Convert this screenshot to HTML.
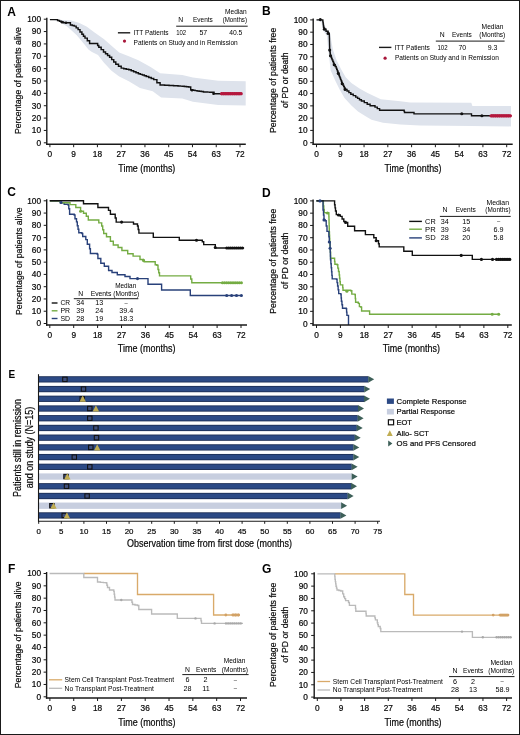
<!DOCTYPE html>
<html><head><meta charset="utf-8"><style>
html,body{margin:0;padding:0;background:#fff;}
body{width:520px;height:735px;overflow:hidden;position:relative;font-family:"Liberation Sans", sans-serif;}
svg{display:block;position:absolute;left:0;top:0;will-change:transform;}
.frame{position:absolute;left:0;top:0;width:518px;height:733px;border:1px solid #1a1a1a;pointer-events:none;}
</style></head><body>
<svg width="520" height="735" viewBox="0 0 520 735" font-family='"Liberation Sans", sans-serif'>
<style>text.s{stroke:#1a1a1a;stroke-width:0.22px;}</style>
<rect x="0" y="0" width="520" height="735" fill="#fff"/>
<text x="7.20" y="15.60" font-size="12" font-weight="bold">A</text>
<path d="M50.00 19.30 L71.10 20.40 L78.80 22.70 L86.50 26.50 L94.20 32.30 L103.80 39.00 L111.50 45.80 L119.20 52.50 L128.80 56.30 L138.40 60.20 L150.60 66.90 L160.10 73.30 L182.30 74.90 L192.90 77.50 L218.20 80.70 L245.70 81.30 L245.70 105.40 L218.20 105.00 L192.90 101.80 L182.30 98.60 L161.10 97.60 L152.70 91.20 L140.00 88.10 L128.80 81.30 L119.20 76.50 L111.50 70.80 L103.80 62.50 L98.00 55.00 L92.00 52.00 L88.40 49.50 L84.50 44.50 L76.80 35.20 L67.20 26.50 L58.00 21.00 L50.00 19.30Z" fill="#dee3ec"/>
<path d="M49.90 19.60H55.70H57.60V20.40H59.50V21.20H61.50V21.95H63.50V22.70H68.80H70.40V25.00H72.30V25.55H74.20V26.10H76.15V27.85H78.10V29.60H80.00V31.90H81.90V34.20H83.45V36.15H85.00V38.10H87.30V40.80H89.60V43.50H96.50H97.65V45.40H98.80V47.30H101.15V49.60H103.50V51.90H105.53V53.70H107.57V55.50H109.60V57.30H111.67V59.60H113.73V61.90H115.80V64.20H118.50V66.15H121.20V68.10H123.73V68.67H126.27V69.23H128.80V69.80H131.20V70.78H133.60V71.75H136.00V72.72H138.40V73.70H140.38V74.38H142.35V75.05H144.33V75.73H146.30V76.40H148.77V77.47H151.23V78.53H153.70V79.60H156.90V82.80H160.10V84.90H162.34V85.03H164.57V85.15H166.81V85.28H169.05V85.40H171.29V85.53H173.53V85.65H175.76V85.78H178.00V85.90H180.12V86.12H182.24V86.34H184.36V86.56H186.48V86.78H188.60V87.00H190.70V89.70H192.85V90.15H195.00V90.60H197.10V90.92H199.20V91.25H201.30V91.58H203.40V91.90H205.53V92.00H207.65V92.10H209.78V92.20H211.90V92.30H214.00V93.70H241.00" stroke="#111" stroke-width="1.45" fill="none"/>
<circle cx="213.50" cy="93.70" r="1.3" fill="#111"/>
<circle cx="192.00" cy="90.20" r="1.3" fill="#111"/>
<circle cx="62.00" cy="22.20" r="1.3" fill="#111"/>
<circle cx="66.00" cy="22.80" r="1.3" fill="#111"/>
<line x1="221.00" y1="93.70" x2="241.30" y2="93.70" stroke="#ad163c" stroke-width="3.0"/>
<circle cx="221.50" cy="93.70" r="1.6" fill="#b5173d"/>
<circle cx="223.69" cy="93.70" r="1.6" fill="#b5173d"/>
<circle cx="225.88" cy="93.70" r="1.6" fill="#b5173d"/>
<circle cx="228.07" cy="93.70" r="1.6" fill="#b5173d"/>
<circle cx="230.26" cy="93.70" r="1.6" fill="#b5173d"/>
<circle cx="232.45" cy="93.70" r="1.6" fill="#b5173d"/>
<circle cx="234.64" cy="93.70" r="1.6" fill="#b5173d"/>
<circle cx="236.83" cy="93.70" r="1.6" fill="#b5173d"/>
<circle cx="239.02" cy="93.70" r="1.6" fill="#b5173d"/>
<circle cx="241.21" cy="93.70" r="1.6" fill="#b5173d"/>
<line x1="46.80" y1="17.70" x2="46.80" y2="144.90" stroke="#1a1a1a" stroke-width="1.4"/>
<line x1="46.10" y1="144.20" x2="245.80" y2="144.20" stroke="#1a1a1a" stroke-width="1.4"/>
<line x1="43.80" y1="142.80" x2="46.80" y2="142.80" stroke="#1a1a1a" stroke-width="1"/>
<text x="41.00" y="145.70" font-size="8.3" text-anchor="end" class="s">0</text>
<line x1="43.80" y1="130.44" x2="46.80" y2="130.44" stroke="#1a1a1a" stroke-width="1"/>
<text x="41.00" y="133.34" font-size="8.3" text-anchor="end" class="s">10</text>
<line x1="43.80" y1="118.08" x2="46.80" y2="118.08" stroke="#1a1a1a" stroke-width="1"/>
<text x="41.00" y="120.98" font-size="8.3" text-anchor="end" class="s">20</text>
<line x1="43.80" y1="105.72" x2="46.80" y2="105.72" stroke="#1a1a1a" stroke-width="1"/>
<text x="41.00" y="108.62" font-size="8.3" text-anchor="end" class="s">30</text>
<line x1="43.80" y1="93.36" x2="46.80" y2="93.36" stroke="#1a1a1a" stroke-width="1"/>
<text x="41.00" y="96.26" font-size="8.3" text-anchor="end" class="s">40</text>
<line x1="43.80" y1="81.00" x2="46.80" y2="81.00" stroke="#1a1a1a" stroke-width="1"/>
<text x="41.00" y="83.90" font-size="8.3" text-anchor="end" class="s">50</text>
<line x1="43.80" y1="68.64" x2="46.80" y2="68.64" stroke="#1a1a1a" stroke-width="1"/>
<text x="41.00" y="71.54" font-size="8.3" text-anchor="end" class="s">60</text>
<line x1="43.80" y1="56.28" x2="46.80" y2="56.28" stroke="#1a1a1a" stroke-width="1"/>
<text x="41.00" y="59.18" font-size="8.3" text-anchor="end" class="s">70</text>
<line x1="43.80" y1="43.92" x2="46.80" y2="43.92" stroke="#1a1a1a" stroke-width="1"/>
<text x="41.00" y="46.82" font-size="8.3" text-anchor="end" class="s">80</text>
<line x1="43.80" y1="31.56" x2="46.80" y2="31.56" stroke="#1a1a1a" stroke-width="1"/>
<text x="41.00" y="34.46" font-size="8.3" text-anchor="end" class="s">90</text>
<line x1="43.80" y1="19.20" x2="46.80" y2="19.20" stroke="#1a1a1a" stroke-width="1"/>
<text x="41.00" y="22.10" font-size="8.3" text-anchor="end" class="s">100</text>
<line x1="49.90" y1="144.20" x2="49.90" y2="147.20" stroke="#1a1a1a" stroke-width="1"/>
<text x="49.90" y="157.10" font-size="8.3" text-anchor="middle" class="s">0</text>
<line x1="73.66" y1="144.20" x2="73.66" y2="147.20" stroke="#1a1a1a" stroke-width="1"/>
<text x="73.66" y="157.10" font-size="8.3" text-anchor="middle" class="s">9</text>
<line x1="97.42" y1="144.20" x2="97.42" y2="147.20" stroke="#1a1a1a" stroke-width="1"/>
<text x="97.42" y="157.10" font-size="8.3" text-anchor="middle" class="s">18</text>
<line x1="121.19" y1="144.20" x2="121.19" y2="147.20" stroke="#1a1a1a" stroke-width="1"/>
<text x="121.19" y="157.10" font-size="8.3" text-anchor="middle" class="s">27</text>
<line x1="144.95" y1="144.20" x2="144.95" y2="147.20" stroke="#1a1a1a" stroke-width="1"/>
<text x="144.95" y="157.10" font-size="8.3" text-anchor="middle" class="s">36</text>
<line x1="168.71" y1="144.20" x2="168.71" y2="147.20" stroke="#1a1a1a" stroke-width="1"/>
<text x="168.71" y="157.10" font-size="8.3" text-anchor="middle" class="s">45</text>
<line x1="192.47" y1="144.20" x2="192.47" y2="147.20" stroke="#1a1a1a" stroke-width="1"/>
<text x="192.47" y="157.10" font-size="8.3" text-anchor="middle" class="s">54</text>
<line x1="216.24" y1="144.20" x2="216.24" y2="147.20" stroke="#1a1a1a" stroke-width="1"/>
<text x="216.24" y="157.10" font-size="8.3" text-anchor="middle" class="s">63</text>
<line x1="240.00" y1="144.20" x2="240.00" y2="147.20" stroke="#1a1a1a" stroke-width="1"/>
<text x="240.00" y="157.10" font-size="8.3" text-anchor="middle" class="s">72</text>
<text x="146.80" y="171.50" font-size="10" text-anchor="middle" textLength="57.00" lengthAdjust="spacingAndGlyphs" class="s">Time (months)</text>
<text x="21.00" y="80.60" font-size="9.3" text-anchor="middle" textLength="107.00" lengthAdjust="spacingAndGlyphs" transform="rotate(-90 21.00 80.60)" class="s">Percentage of patients alive</text>
<text x="235.80" y="13.50" font-size="6.8" text-anchor="middle" textLength="21.60" lengthAdjust="spacingAndGlyphs">Median</text>
<text x="180.80" y="21.50" font-size="6.8" text-anchor="middle">N</text>
<text x="202.90" y="21.50" font-size="6.8" text-anchor="middle" textLength="19.80" lengthAdjust="spacingAndGlyphs">Events</text>
<text x="234.80" y="21.50" font-size="6.8" text-anchor="middle" textLength="24.30" lengthAdjust="spacingAndGlyphs">(Months)</text>
<line x1="176.20" y1="26.20" x2="247.70" y2="26.20" stroke="#1a1a1a" stroke-width="1.0"/>
<line x1="117.90" y1="32.80" x2="130.20" y2="32.80" stroke="#1a1a1a" stroke-width="1.4"/>
<text x="133.50" y="35.10" font-size="7" textLength="35.10" lengthAdjust="spacingAndGlyphs">ITT Patients</text>
<text x="181.20" y="35.00" font-size="7" text-anchor="middle" textLength="10.00" lengthAdjust="spacingAndGlyphs">102</text>
<text x="203.30" y="35.00" font-size="7" text-anchor="middle">57</text>
<text x="235.80" y="35.00" font-size="7" text-anchor="middle" textLength="13.10" lengthAdjust="spacingAndGlyphs">40.5</text>
<circle cx="124.50" cy="41.10" r="1.6" fill="#a8163a"/>
<text x="133.50" y="44.60" font-size="7" textLength="104.30" lengthAdjust="spacingAndGlyphs">Patients on Study and in Remission</text>
<text x="262.00" y="15.20" font-size="12" font-weight="bold">B</text>
<path d="M316.50 19.50 L321.00 19.50 L323.50 21.00 L325.00 26.00 L327.00 29.50 L330.00 32.50 L331.50 42.00 L333.00 50.00 L336.50 60.00 L341.10 69.20 L345.70 77.30 L351.40 83.10 L359.50 88.50 L367.60 93.00 L380.80 99.30 L400.40 101.30 L410.00 102.50 L471.30 102.70 L472.40 105.90 L511.00 105.90 L511.00 126.40 L471.30 126.00 L420.00 125.60 L400.40 124.40 L383.00 122.70 L371.50 119.80 L366.00 116.50 L358.00 111.50 L351.40 105.50 L344.50 98.10 L339.90 90.00 L335.30 80.80 L330.70 70.40 L329.50 60.00 L328.50 52.00 L327.80 45.00 L327.00 36.00 L324.00 32.00 L322.30 28.00 L321.50 22.00 L316.50 20.50Z" fill="#dee3ec"/>
<path d="M316.50 19.90H320.30H322.80V21.10H323.00V22.62H323.20V24.15H323.40V25.68H323.60V27.20H324.00V28.25H324.40V29.30H326.00V31.30H328.10V33.40H329.30V34.20H329.34V35.65H329.37V37.09H329.41V38.54H329.45V39.98H329.48V41.43H329.52V42.87H329.55V44.32H329.59V45.76H329.63V47.21H329.66V48.65H329.70V50.10H329.90V51.52H330.10V52.95H330.30V54.38H330.50V55.80H331.03V57.17H331.57V58.53H332.10V59.90H332.80V61.53H333.50V63.17H334.20V64.80H335.20V66.45H336.20V68.10H336.73V69.42H337.25V70.75H337.77V72.08H338.30V73.40H338.80V75.00H339.37V76.45H339.93V77.90H340.50V79.35H341.07V80.80H341.63V82.25H342.20V83.70H342.93V85.12H343.65V86.55H344.38V87.98H345.10V89.40H347.00V91.00H348.90V92.60H350.80V94.20H353.25V95.65H355.70V97.10H357.60V98.40H359.50V99.70H361.40V101.00H364.30V102.60H367.20V104.20H370.10V105.80H375.00V107.10H377.30V108.65H379.60V110.20H403.80H404.15V111.35H404.50V112.50H413.50H414.00V113.90H471.50V115.80H490.00" stroke="#111" stroke-width="1.4" fill="none"/>
<circle cx="320.30" cy="19.60" r="1.55" fill="#111"/>
<circle cx="324.40" cy="29.30" r="1.55" fill="#111"/>
<circle cx="328.10" cy="33.40" r="1.55" fill="#111"/>
<circle cx="329.70" cy="50.10" r="1.55" fill="#111"/>
<circle cx="330.50" cy="55.80" r="1.55" fill="#111"/>
<circle cx="334.20" cy="64.80" r="1.55" fill="#111"/>
<circle cx="338.30" cy="73.40" r="1.55" fill="#111"/>
<circle cx="342.20" cy="83.70" r="1.55" fill="#111"/>
<circle cx="345.10" cy="89.40" r="1.55" fill="#111"/>
<circle cx="461.80" cy="113.70" r="1.55" fill="#111"/>
<circle cx="481.90" cy="115.80" r="1.55" fill="#111"/>
<line x1="491.00" y1="115.80" x2="510.40" y2="115.80" stroke="#ad163c" stroke-width="3.0"/>
<circle cx="491.00" cy="115.80" r="1.6" fill="#b5173d"/>
<circle cx="493.16" cy="115.80" r="1.6" fill="#b5173d"/>
<circle cx="495.32" cy="115.80" r="1.6" fill="#b5173d"/>
<circle cx="497.48" cy="115.80" r="1.6" fill="#b5173d"/>
<circle cx="499.64" cy="115.80" r="1.6" fill="#b5173d"/>
<circle cx="501.80" cy="115.80" r="1.6" fill="#b5173d"/>
<circle cx="503.96" cy="115.80" r="1.6" fill="#b5173d"/>
<circle cx="506.12" cy="115.80" r="1.6" fill="#b5173d"/>
<circle cx="508.28" cy="115.80" r="1.6" fill="#b5173d"/>
<circle cx="510.44" cy="115.80" r="1.6" fill="#b5173d"/>
<line x1="313.20" y1="18.40" x2="313.20" y2="144.90" stroke="#1a1a1a" stroke-width="1.4"/>
<line x1="312.50" y1="144.20" x2="512.70" y2="144.20" stroke="#1a1a1a" stroke-width="1.4"/>
<line x1="310.20" y1="142.70" x2="313.20" y2="142.70" stroke="#1a1a1a" stroke-width="1"/>
<text x="307.60" y="145.60" font-size="8.3" text-anchor="end" class="s">0</text>
<line x1="310.20" y1="130.42" x2="313.20" y2="130.42" stroke="#1a1a1a" stroke-width="1"/>
<text x="307.60" y="133.32" font-size="8.3" text-anchor="end" class="s">10</text>
<line x1="310.20" y1="118.14" x2="313.20" y2="118.14" stroke="#1a1a1a" stroke-width="1"/>
<text x="307.60" y="121.04" font-size="8.3" text-anchor="end" class="s">20</text>
<line x1="310.20" y1="105.86" x2="313.20" y2="105.86" stroke="#1a1a1a" stroke-width="1"/>
<text x="307.60" y="108.76" font-size="8.3" text-anchor="end" class="s">30</text>
<line x1="310.20" y1="93.58" x2="313.20" y2="93.58" stroke="#1a1a1a" stroke-width="1"/>
<text x="307.60" y="96.48" font-size="8.3" text-anchor="end" class="s">40</text>
<line x1="310.20" y1="81.30" x2="313.20" y2="81.30" stroke="#1a1a1a" stroke-width="1"/>
<text x="307.60" y="84.20" font-size="8.3" text-anchor="end" class="s">50</text>
<line x1="310.20" y1="69.02" x2="313.20" y2="69.02" stroke="#1a1a1a" stroke-width="1"/>
<text x="307.60" y="71.92" font-size="8.3" text-anchor="end" class="s">60</text>
<line x1="310.20" y1="56.74" x2="313.20" y2="56.74" stroke="#1a1a1a" stroke-width="1"/>
<text x="307.60" y="59.64" font-size="8.3" text-anchor="end" class="s">70</text>
<line x1="310.20" y1="44.46" x2="313.20" y2="44.46" stroke="#1a1a1a" stroke-width="1"/>
<text x="307.60" y="47.36" font-size="8.3" text-anchor="end" class="s">80</text>
<line x1="310.20" y1="32.18" x2="313.20" y2="32.18" stroke="#1a1a1a" stroke-width="1"/>
<text x="307.60" y="35.08" font-size="8.3" text-anchor="end" class="s">90</text>
<line x1="310.20" y1="19.90" x2="313.20" y2="19.90" stroke="#1a1a1a" stroke-width="1"/>
<text x="307.60" y="22.80" font-size="8.3" text-anchor="end" class="s">100</text>
<line x1="316.50" y1="144.20" x2="316.50" y2="147.20" stroke="#1a1a1a" stroke-width="1"/>
<text x="316.50" y="157.10" font-size="8.3" text-anchor="middle" class="s">0</text>
<line x1="340.27" y1="144.20" x2="340.27" y2="147.20" stroke="#1a1a1a" stroke-width="1"/>
<text x="340.27" y="157.10" font-size="8.3" text-anchor="middle" class="s">9</text>
<line x1="364.05" y1="144.20" x2="364.05" y2="147.20" stroke="#1a1a1a" stroke-width="1"/>
<text x="364.05" y="157.10" font-size="8.3" text-anchor="middle" class="s">18</text>
<line x1="387.82" y1="144.20" x2="387.82" y2="147.20" stroke="#1a1a1a" stroke-width="1"/>
<text x="387.82" y="157.10" font-size="8.3" text-anchor="middle" class="s">27</text>
<line x1="411.60" y1="144.20" x2="411.60" y2="147.20" stroke="#1a1a1a" stroke-width="1"/>
<text x="411.60" y="157.10" font-size="8.3" text-anchor="middle" class="s">36</text>
<line x1="435.38" y1="144.20" x2="435.38" y2="147.20" stroke="#1a1a1a" stroke-width="1"/>
<text x="435.38" y="157.10" font-size="8.3" text-anchor="middle" class="s">45</text>
<line x1="459.15" y1="144.20" x2="459.15" y2="147.20" stroke="#1a1a1a" stroke-width="1"/>
<text x="459.15" y="157.10" font-size="8.3" text-anchor="middle" class="s">54</text>
<line x1="482.92" y1="144.20" x2="482.92" y2="147.20" stroke="#1a1a1a" stroke-width="1"/>
<text x="482.92" y="157.10" font-size="8.3" text-anchor="middle" class="s">63</text>
<line x1="506.70" y1="144.20" x2="506.70" y2="147.20" stroke="#1a1a1a" stroke-width="1"/>
<text x="506.70" y="157.10" font-size="8.3" text-anchor="middle" class="s">72</text>
<text x="413.00" y="171.60" font-size="10" text-anchor="middle" textLength="57.00" lengthAdjust="spacingAndGlyphs" class="s">Time (months)</text>
<text x="275.90" y="80.30" font-size="9.3" text-anchor="middle" textLength="105.40" lengthAdjust="spacingAndGlyphs" transform="rotate(-90 275.90 80.30)" class="s">Percentage of patients free</text>
<text x="288.10" y="80.30" font-size="9.3" text-anchor="middle" textLength="55.50" lengthAdjust="spacingAndGlyphs" transform="rotate(-90 288.10 80.30)" class="s">of PD or death</text>
<text x="492.50" y="28.80" font-size="6.8" text-anchor="middle" textLength="21.80" lengthAdjust="spacingAndGlyphs">Median</text>
<text x="442.10" y="36.50" font-size="6.8" text-anchor="middle">N</text>
<text x="461.90" y="36.50" font-size="6.8" text-anchor="middle" textLength="19.80" lengthAdjust="spacingAndGlyphs">Events</text>
<text x="492.30" y="36.50" font-size="6.8" text-anchor="middle" textLength="26.00" lengthAdjust="spacingAndGlyphs">(Months)</text>
<line x1="435.80" y1="41.10" x2="504.60" y2="41.10" stroke="#1a1a1a" stroke-width="1.0"/>
<line x1="379.00" y1="47.40" x2="391.40" y2="47.40" stroke="#1a1a1a" stroke-width="1.4"/>
<text x="394.50" y="49.60" font-size="7" textLength="35.40" lengthAdjust="spacingAndGlyphs">ITT Patients</text>
<text x="442.50" y="49.60" font-size="7" text-anchor="middle" textLength="10.20" lengthAdjust="spacingAndGlyphs">102</text>
<text x="462.30" y="49.60" font-size="7" text-anchor="middle">70</text>
<text x="492.50" y="49.60" font-size="7" text-anchor="middle">9.3</text>
<circle cx="385.10" cy="58.20" r="1.6" fill="#a8163a"/>
<text x="394.90" y="59.60" font-size="7" textLength="104.00" lengthAdjust="spacingAndGlyphs">Patients on Study and in Remission</text>
<text x="7.30" y="196.30" font-size="12" font-weight="bold">C</text>
<path d="M49.80 200.80H60.40H61.20V202.70H64.20V204.20H68.10V205.00H68.80V208.80H69.60V214.20H74.20V215.00H75.00V218.80H76.50V221.90H77.30V225.80H78.05V229.25H78.80V232.70H81.90V233.50H82.70V236.50H85.80V239.60H87.30V244.20H89.60V248.80H90.40V253.50H97.30V254.20H97.90V258.50H100.80V263.30H104.30V266.20H108.60V270.50H112.00V272.50H117.30V274.80H125.00V276.50H130.00V278.60H147.40H148.00V284.30H161.10H161.60V290.00H189.70H190.30V295.50H241.50" stroke="#29417a" stroke-width="1.4" fill="none"/>
<path d="M49.80 200.80H58.00H60.40V202.70H68.00H70.00V204.60H75.80V207.50H80.60V211.30H83.50V213.30H86.30V216.20H88.30V220.00H96.90H98.80V222.90H101.70V226.00H102.70V229.75H103.70V233.50H106.50V236.80H110.40V241.20H113.30V245.00H118.10V247.50H121.90V250.50H127.70V253.70H133.10V256.10H140.00V259.50H143.20V260.40H144.20V261.70H153.70H155.20V264.70H156.90V265.30H158.00V269.50H158.75V272.70H159.50V275.90H189.70H190.70V279.00H191.80V282.80H241.50" stroke="#74ac43" stroke-width="1.4" fill="none"/>
<path d="M49.80 200.80H83.50V203.70H96.90H97.90V207.50H106.50H108.50V210.40H110.40V214.20H113.30H115.20V218.00H116.20V222.10H131.70H133.50V224.00H137.50V226.00H138.20V229.55H138.90V233.10H151.90H153.30V237.40H177.80H179.30V240.30H196.50H202.30V241.70H203.70V244.60H213.80H215.30V248.00H244.10" stroke="#111" stroke-width="1.4" fill="none"/>
<circle cx="121.60" cy="222.10" r="1.55" fill="#111"/>
<circle cx="196.50" cy="240.30" r="1.55" fill="#111"/>
<circle cx="215.30" cy="247.50" r="1.55" fill="#111"/>
<circle cx="226.80" cy="248.00" r="1.55" fill="#111"/>
<circle cx="228.75" cy="248.00" r="1.55" fill="#111"/>
<circle cx="230.70" cy="248.00" r="1.55" fill="#111"/>
<circle cx="232.65" cy="248.00" r="1.55" fill="#111"/>
<circle cx="234.60" cy="248.00" r="1.55" fill="#111"/>
<circle cx="236.55" cy="248.00" r="1.55" fill="#111"/>
<circle cx="238.50" cy="248.00" r="1.55" fill="#111"/>
<circle cx="240.45" cy="248.00" r="1.55" fill="#111"/>
<circle cx="242.40" cy="248.00" r="1.55" fill="#111"/>
<circle cx="80.60" cy="211.30" r="1.55" fill="#74ac43"/>
<circle cx="143.50" cy="260.40" r="1.55" fill="#74ac43"/>
<circle cx="222.50" cy="282.80" r="1.55" fill="#74ac43"/>
<circle cx="224.60" cy="282.80" r="1.55" fill="#74ac43"/>
<circle cx="226.70" cy="282.80" r="1.55" fill="#74ac43"/>
<circle cx="228.80" cy="282.80" r="1.55" fill="#74ac43"/>
<circle cx="230.90" cy="282.80" r="1.55" fill="#74ac43"/>
<circle cx="233.00" cy="282.80" r="1.55" fill="#74ac43"/>
<circle cx="235.10" cy="282.80" r="1.55" fill="#74ac43"/>
<circle cx="237.20" cy="282.80" r="1.55" fill="#74ac43"/>
<circle cx="239.30" cy="282.80" r="1.55" fill="#74ac43"/>
<circle cx="241.40" cy="282.80" r="1.55" fill="#74ac43"/>
<circle cx="61.00" cy="202.50" r="1.55" fill="#29417a"/>
<circle cx="137.50" cy="278.60" r="1.55" fill="#29417a"/>
<circle cx="226.70" cy="295.50" r="1.55" fill="#29417a"/>
<circle cx="231.60" cy="295.50" r="1.55" fill="#29417a"/>
<circle cx="236.50" cy="295.50" r="1.55" fill="#29417a"/>
<circle cx="241.40" cy="295.50" r="1.55" fill="#29417a"/>
<line x1="46.70" y1="199.30" x2="46.70" y2="325.70" stroke="#1a1a1a" stroke-width="1.4"/>
<line x1="46.00" y1="325.00" x2="247.00" y2="325.00" stroke="#1a1a1a" stroke-width="1.4"/>
<line x1="43.70" y1="323.50" x2="46.70" y2="323.50" stroke="#1a1a1a" stroke-width="1"/>
<text x="41.00" y="326.40" font-size="8.3" text-anchor="end" class="s">0</text>
<line x1="43.70" y1="311.23" x2="46.70" y2="311.23" stroke="#1a1a1a" stroke-width="1"/>
<text x="41.00" y="314.13" font-size="8.3" text-anchor="end" class="s">10</text>
<line x1="43.70" y1="298.96" x2="46.70" y2="298.96" stroke="#1a1a1a" stroke-width="1"/>
<text x="41.00" y="301.86" font-size="8.3" text-anchor="end" class="s">20</text>
<line x1="43.70" y1="286.69" x2="46.70" y2="286.69" stroke="#1a1a1a" stroke-width="1"/>
<text x="41.00" y="289.59" font-size="8.3" text-anchor="end" class="s">30</text>
<line x1="43.70" y1="274.42" x2="46.70" y2="274.42" stroke="#1a1a1a" stroke-width="1"/>
<text x="41.00" y="277.32" font-size="8.3" text-anchor="end" class="s">40</text>
<line x1="43.70" y1="262.15" x2="46.70" y2="262.15" stroke="#1a1a1a" stroke-width="1"/>
<text x="41.00" y="265.05" font-size="8.3" text-anchor="end" class="s">50</text>
<line x1="43.70" y1="249.88" x2="46.70" y2="249.88" stroke="#1a1a1a" stroke-width="1"/>
<text x="41.00" y="252.78" font-size="8.3" text-anchor="end" class="s">60</text>
<line x1="43.70" y1="237.61" x2="46.70" y2="237.61" stroke="#1a1a1a" stroke-width="1"/>
<text x="41.00" y="240.51" font-size="8.3" text-anchor="end" class="s">70</text>
<line x1="43.70" y1="225.34" x2="46.70" y2="225.34" stroke="#1a1a1a" stroke-width="1"/>
<text x="41.00" y="228.24" font-size="8.3" text-anchor="end" class="s">80</text>
<line x1="43.70" y1="213.07" x2="46.70" y2="213.07" stroke="#1a1a1a" stroke-width="1"/>
<text x="41.00" y="215.97" font-size="8.3" text-anchor="end" class="s">90</text>
<line x1="43.70" y1="200.80" x2="46.70" y2="200.80" stroke="#1a1a1a" stroke-width="1"/>
<text x="41.00" y="203.70" font-size="8.3" text-anchor="end" class="s">100</text>
<line x1="49.80" y1="325.00" x2="49.80" y2="328.00" stroke="#1a1a1a" stroke-width="1"/>
<text x="49.80" y="337.90" font-size="8.3" text-anchor="middle" class="s">0</text>
<line x1="73.70" y1="325.00" x2="73.70" y2="328.00" stroke="#1a1a1a" stroke-width="1"/>
<text x="73.70" y="337.90" font-size="8.3" text-anchor="middle" class="s">9</text>
<line x1="97.60" y1="325.00" x2="97.60" y2="328.00" stroke="#1a1a1a" stroke-width="1"/>
<text x="97.60" y="337.90" font-size="8.3" text-anchor="middle" class="s">18</text>
<line x1="121.50" y1="325.00" x2="121.50" y2="328.00" stroke="#1a1a1a" stroke-width="1"/>
<text x="121.50" y="337.90" font-size="8.3" text-anchor="middle" class="s">27</text>
<line x1="145.40" y1="325.00" x2="145.40" y2="328.00" stroke="#1a1a1a" stroke-width="1"/>
<text x="145.40" y="337.90" font-size="8.3" text-anchor="middle" class="s">36</text>
<line x1="169.30" y1="325.00" x2="169.30" y2="328.00" stroke="#1a1a1a" stroke-width="1"/>
<text x="169.30" y="337.90" font-size="8.3" text-anchor="middle" class="s">45</text>
<line x1="193.20" y1="325.00" x2="193.20" y2="328.00" stroke="#1a1a1a" stroke-width="1"/>
<text x="193.20" y="337.90" font-size="8.3" text-anchor="middle" class="s">54</text>
<line x1="217.10" y1="325.00" x2="217.10" y2="328.00" stroke="#1a1a1a" stroke-width="1"/>
<text x="217.10" y="337.90" font-size="8.3" text-anchor="middle" class="s">63</text>
<line x1="241.00" y1="325.00" x2="241.00" y2="328.00" stroke="#1a1a1a" stroke-width="1"/>
<text x="241.00" y="337.90" font-size="8.3" text-anchor="middle" class="s">72</text>
<text x="146.60" y="352.20" font-size="10" text-anchor="middle" textLength="57.60" lengthAdjust="spacingAndGlyphs" class="s">Time (months)</text>
<text x="22.00" y="261.20" font-size="9.3" text-anchor="middle" textLength="107.70" lengthAdjust="spacingAndGlyphs" transform="rotate(-90 22.00 261.20)" class="s">Percentage of patients alive</text>
<text x="125.70" y="288.20" font-size="6.8" text-anchor="middle" textLength="21.10" lengthAdjust="spacingAndGlyphs">Median</text>
<text x="80.60" y="295.90" font-size="6.8" text-anchor="middle">N</text>
<text x="101.00" y="295.90" font-size="6.8" text-anchor="middle" textLength="20.70" lengthAdjust="spacingAndGlyphs">Events</text>
<text x="126.20" y="295.90" font-size="6.8" text-anchor="middle" textLength="25.90" lengthAdjust="spacingAndGlyphs">(Months)</text>
<line x1="73.80" y1="298.70" x2="138.30" y2="298.70" stroke="#1a1a1a" stroke-width="1.0"/>
<line x1="51.70" y1="303.00" x2="57.50" y2="303.00" stroke="#111" stroke-width="1.4"/>
<text x="60.40" y="305.40" font-size="7.2" textLength="9.60" lengthAdjust="spacingAndGlyphs">CR</text>
<text x="80.30" y="305.40" font-size="7.2" text-anchor="middle">34</text>
<text x="99.30" y="305.40" font-size="7.2" text-anchor="middle">13</text>
<text x="126.20" y="304.60" font-size="5.8" text-anchor="middle">–</text>
<line x1="51.70" y1="310.80" x2="57.50" y2="310.80" stroke="#74ac43" stroke-width="1.4"/>
<text x="60.40" y="313.20" font-size="7.2" textLength="9.60" lengthAdjust="spacingAndGlyphs">PR</text>
<text x="80.30" y="313.20" font-size="7.2" text-anchor="middle">39</text>
<text x="99.30" y="313.20" font-size="7.2" text-anchor="middle">24</text>
<text x="126.20" y="313.20" font-size="7.2" text-anchor="middle">39.4</text>
<line x1="51.70" y1="318.50" x2="57.50" y2="318.50" stroke="#29417a" stroke-width="1.4"/>
<text x="60.40" y="320.90" font-size="7.2" textLength="9.60" lengthAdjust="spacingAndGlyphs">SD</text>
<text x="80.30" y="320.90" font-size="7.2" text-anchor="middle">28</text>
<text x="99.30" y="320.90" font-size="7.2" text-anchor="middle">19</text>
<text x="126.20" y="320.90" font-size="7.2" text-anchor="middle">18.3</text>
<text x="262.00" y="196.80" font-size="12" font-weight="bold">D</text>
<path d="M316.40 200.90H323.40V206.00H323.80V209.40H324.20V212.80H328.40H328.80V213.70H328.88V216.75H328.97V219.80H329.05V222.85H329.13V225.90H329.22V228.95H329.30V232.00H329.46V235.24H329.62V238.48H329.78V241.72H329.94V244.96H330.10V248.20H330.35V252.10H330.60V256.00V258.30H334.30H334.60V261.35H334.90V264.20H337.10V264.70H337.80V268.13H338.50V271.57H339.20V275.00H339.57V278.30H339.93V281.60H340.30V284.90H342.50H342.75V287.60H343.00V290.30H350.70V290.80H351.80V294.10H355.00V294.70H355.30V298.50H355.60V302.30H358.30V303.40H359.40V306.60H361.00V307.20H361.60V311.00H368.00H369.60V314.30H498.70" stroke="#74ac43" stroke-width="1.4" fill="none"/>
<path d="M316.40 200.90H323.00V210.00H323.50V214.95H324.00V219.90H325.30V220.80H326.20V226.00H327.00V231.40H328.40H328.85V236.70H329.30V242.00H330.10V248.20H330.23V252.07H330.37V255.93H330.50V259.80H330.87V263.80H331.23V267.80H331.60V271.80H331.90V275.35H332.20V278.90H336.50V279.20H337.05V282.60H337.60V286.00H338.15V289.80H338.70V293.60H340.90V294.70H341.15V297.95H341.40V301.20H341.95V304.75H342.50V308.30H346.30V308.80H346.60V312.10H346.90V315.40H348.50V315.90V325.00" stroke="#29417a" stroke-width="1.4" fill="none"/>
<path d="M316.40 200.90H333.70H334.60V204.80H335.05V207.90H335.50V211.00H336.30V214.60H338.50V215.00H340.30V216.40H342.10V219.00H343.80V221.50H345.60V222.50H347.70V226.20H353.80H354.60V230.80H364.60H365.40V234.60H373.10H373.80V237.70H376.20V240.80H378.50V243.80H379.20V246.90H403.10H403.80V251.20H411.50H412.30V255.40H471.30H472.30V259.40H510.00" stroke="#111" stroke-width="1.4" fill="none"/>
<circle cx="338.50" cy="215.00" r="1.55" fill="#111"/>
<circle cx="345.60" cy="222.50" r="1.55" fill="#111"/>
<circle cx="376.20" cy="240.80" r="1.55" fill="#111"/>
<circle cx="461.20" cy="255.40" r="1.55" fill="#111"/>
<circle cx="481.40" cy="259.40" r="1.55" fill="#111"/>
<circle cx="492.50" cy="259.40" r="1.55" fill="#111"/>
<circle cx="496.50" cy="259.40" r="1.55" fill="#111"/>
<circle cx="498.40" cy="259.40" r="1.55" fill="#111"/>
<circle cx="500.30" cy="259.40" r="1.55" fill="#111"/>
<circle cx="502.20" cy="259.40" r="1.55" fill="#111"/>
<circle cx="504.10" cy="259.40" r="1.55" fill="#111"/>
<circle cx="506.00" cy="259.40" r="1.55" fill="#111"/>
<circle cx="507.90" cy="259.40" r="1.55" fill="#111"/>
<circle cx="509.80" cy="259.40" r="1.55" fill="#111"/>
<circle cx="327.50" cy="213.00" r="1.55" fill="#74ac43"/>
<circle cx="346.90" cy="291.20" r="1.55" fill="#74ac43"/>
<circle cx="492.20" cy="314.30" r="1.55" fill="#74ac43"/>
<circle cx="498.70" cy="314.30" r="1.55" fill="#74ac43"/>
<circle cx="320.00" cy="200.90" r="1.55" fill="#29417a"/>
<circle cx="324.00" cy="219.90" r="1.55" fill="#29417a"/>
<circle cx="329.30" cy="242.00" r="1.55" fill="#29417a"/>
<circle cx="330.10" cy="248.20" r="1.55" fill="#29417a"/>
<line x1="313.10" y1="199.40" x2="313.10" y2="325.70" stroke="#1a1a1a" stroke-width="1.4"/>
<line x1="312.40" y1="325.00" x2="511.80" y2="325.00" stroke="#1a1a1a" stroke-width="1.4"/>
<line x1="310.10" y1="323.60" x2="313.10" y2="323.60" stroke="#1a1a1a" stroke-width="1"/>
<text x="307.50" y="326.50" font-size="8.3" text-anchor="end" class="s">0</text>
<line x1="310.10" y1="311.33" x2="313.10" y2="311.33" stroke="#1a1a1a" stroke-width="1"/>
<text x="307.50" y="314.23" font-size="8.3" text-anchor="end" class="s">10</text>
<line x1="310.10" y1="299.06" x2="313.10" y2="299.06" stroke="#1a1a1a" stroke-width="1"/>
<text x="307.50" y="301.96" font-size="8.3" text-anchor="end" class="s">20</text>
<line x1="310.10" y1="286.79" x2="313.10" y2="286.79" stroke="#1a1a1a" stroke-width="1"/>
<text x="307.50" y="289.69" font-size="8.3" text-anchor="end" class="s">30</text>
<line x1="310.10" y1="274.52" x2="313.10" y2="274.52" stroke="#1a1a1a" stroke-width="1"/>
<text x="307.50" y="277.42" font-size="8.3" text-anchor="end" class="s">40</text>
<line x1="310.10" y1="262.25" x2="313.10" y2="262.25" stroke="#1a1a1a" stroke-width="1"/>
<text x="307.50" y="265.15" font-size="8.3" text-anchor="end" class="s">50</text>
<line x1="310.10" y1="249.98" x2="313.10" y2="249.98" stroke="#1a1a1a" stroke-width="1"/>
<text x="307.50" y="252.88" font-size="8.3" text-anchor="end" class="s">60</text>
<line x1="310.10" y1="237.71" x2="313.10" y2="237.71" stroke="#1a1a1a" stroke-width="1"/>
<text x="307.50" y="240.61" font-size="8.3" text-anchor="end" class="s">70</text>
<line x1="310.10" y1="225.44" x2="313.10" y2="225.44" stroke="#1a1a1a" stroke-width="1"/>
<text x="307.50" y="228.34" font-size="8.3" text-anchor="end" class="s">80</text>
<line x1="310.10" y1="213.17" x2="313.10" y2="213.17" stroke="#1a1a1a" stroke-width="1"/>
<text x="307.50" y="216.07" font-size="8.3" text-anchor="end" class="s">90</text>
<line x1="310.10" y1="200.90" x2="313.10" y2="200.90" stroke="#1a1a1a" stroke-width="1"/>
<text x="307.50" y="203.80" font-size="8.3" text-anchor="end" class="s">100</text>
<line x1="316.50" y1="325.00" x2="316.50" y2="328.00" stroke="#1a1a1a" stroke-width="1"/>
<text x="316.50" y="337.90" font-size="8.3" text-anchor="middle" class="s">0</text>
<line x1="340.41" y1="325.00" x2="340.41" y2="328.00" stroke="#1a1a1a" stroke-width="1"/>
<text x="340.41" y="337.90" font-size="8.3" text-anchor="middle" class="s">9</text>
<line x1="364.32" y1="325.00" x2="364.32" y2="328.00" stroke="#1a1a1a" stroke-width="1"/>
<text x="364.32" y="337.90" font-size="8.3" text-anchor="middle" class="s">18</text>
<line x1="388.24" y1="325.00" x2="388.24" y2="328.00" stroke="#1a1a1a" stroke-width="1"/>
<text x="388.24" y="337.90" font-size="8.3" text-anchor="middle" class="s">27</text>
<line x1="412.15" y1="325.00" x2="412.15" y2="328.00" stroke="#1a1a1a" stroke-width="1"/>
<text x="412.15" y="337.90" font-size="8.3" text-anchor="middle" class="s">36</text>
<line x1="436.06" y1="325.00" x2="436.06" y2="328.00" stroke="#1a1a1a" stroke-width="1"/>
<text x="436.06" y="337.90" font-size="8.3" text-anchor="middle" class="s">45</text>
<line x1="459.98" y1="325.00" x2="459.98" y2="328.00" stroke="#1a1a1a" stroke-width="1"/>
<text x="459.98" y="337.90" font-size="8.3" text-anchor="middle" class="s">54</text>
<line x1="483.89" y1="325.00" x2="483.89" y2="328.00" stroke="#1a1a1a" stroke-width="1"/>
<text x="483.89" y="337.90" font-size="8.3" text-anchor="middle" class="s">63</text>
<line x1="507.80" y1="325.00" x2="507.80" y2="328.00" stroke="#1a1a1a" stroke-width="1"/>
<text x="507.80" y="337.90" font-size="8.3" text-anchor="middle" class="s">72</text>
<text x="411.30" y="351.90" font-size="10" text-anchor="middle" textLength="57.20" lengthAdjust="spacingAndGlyphs" class="s">Time (months)</text>
<text x="275.90" y="261.20" font-size="9.3" text-anchor="middle" textLength="105.00" lengthAdjust="spacingAndGlyphs" transform="rotate(-90 275.90 261.20)" class="s">Percentage of patients free</text>
<text x="288.10" y="260.80" font-size="9.3" text-anchor="middle" textLength="56.50" lengthAdjust="spacingAndGlyphs" transform="rotate(-90 288.10 260.80)" class="s">of PD or death</text>
<text x="497.70" y="204.80" font-size="6.8" text-anchor="middle" textLength="22.60" lengthAdjust="spacingAndGlyphs">Median</text>
<text x="445.00" y="212.00" font-size="6.8" text-anchor="middle">N</text>
<text x="465.70" y="212.00" font-size="6.8" text-anchor="middle" textLength="20.10" lengthAdjust="spacingAndGlyphs">Events</text>
<text x="498.00" y="212.00" font-size="6.8" text-anchor="middle" textLength="25.40" lengthAdjust="spacingAndGlyphs">(Months)</text>
<line x1="439.90" y1="216.40" x2="510.70" y2="216.40" stroke="#1a1a1a" stroke-width="1.0"/>
<line x1="409.20" y1="221.40" x2="421.90" y2="221.40" stroke="#111" stroke-width="1.4"/>
<text x="425.10" y="223.80" font-size="7.2" textLength="10.60" lengthAdjust="spacingAndGlyphs">CR</text>
<text x="444.80" y="223.80" font-size="7.2" text-anchor="middle">34</text>
<text x="466.30" y="223.80" font-size="7.2" text-anchor="middle">15</text>
<text x="498.50" y="223.00" font-size="5.8" text-anchor="middle">–</text>
<line x1="409.20" y1="229.20" x2="421.90" y2="229.20" stroke="#74ac43" stroke-width="1.4"/>
<text x="425.10" y="231.60" font-size="7.2" textLength="10.60" lengthAdjust="spacingAndGlyphs">PR</text>
<text x="444.80" y="231.60" font-size="7.2" text-anchor="middle">39</text>
<text x="466.30" y="231.60" font-size="7.2" text-anchor="middle">34</text>
<text x="498.50" y="231.60" font-size="7.2" text-anchor="middle">6.9</text>
<line x1="409.20" y1="237.90" x2="421.90" y2="237.90" stroke="#29417a" stroke-width="1.4"/>
<text x="425.10" y="240.30" font-size="7.2" textLength="10.60" lengthAdjust="spacingAndGlyphs">SD</text>
<text x="444.80" y="240.30" font-size="7.2" text-anchor="middle">28</text>
<text x="466.30" y="240.30" font-size="7.2" text-anchor="middle">20</text>
<text x="498.50" y="240.30" font-size="7.2" text-anchor="middle">5.8</text>
<text x="8.60" y="377.60" font-size="10" font-weight="bold">E</text>
<rect x="39" y="376.20" width="329.20" height="6.3" fill="#1f3158"/>
<rect x="39" y="377.10" width="329.20" height="4.5" fill="#2c4a85"/>
<path d="M368.20 375.95L374.20 379.35L368.20 382.75Z" fill="#3d5f58"/>
<rect x="39" y="385.92" width="325.20" height="6.3" fill="#1f3158"/>
<rect x="39" y="386.82" width="325.20" height="4.5" fill="#2c4a85"/>
<path d="M364.20 385.67L370.20 389.07L364.20 392.47Z" fill="#3d5f58"/>
<rect x="39" y="395.64" width="325.00" height="6.3" fill="#1f3158"/>
<rect x="39" y="396.54" width="325.00" height="4.5" fill="#2c4a85"/>
<path d="M364.00 395.39L370.00 398.79L364.00 402.19Z" fill="#3d5f58"/>
<rect x="39" y="405.36" width="319.00" height="6.3" fill="#1f3158"/>
<rect x="39" y="406.26" width="319.00" height="4.5" fill="#2c4a85"/>
<path d="M358.00 405.11L364.00 408.51L358.00 411.91Z" fill="#3d5f58"/>
<rect x="39" y="415.08" width="318.60" height="6.3" fill="#1f3158"/>
<rect x="39" y="415.98" width="318.60" height="4.5" fill="#2c4a85"/>
<path d="M357.60 414.83L363.60 418.23L357.60 421.63Z" fill="#3d5f58"/>
<rect x="39" y="424.80" width="317.70" height="6.3" fill="#1f3158"/>
<rect x="39" y="425.70" width="317.70" height="4.5" fill="#2c4a85"/>
<path d="M356.70 424.55L362.70 427.95L356.70 431.35Z" fill="#3d5f58"/>
<rect x="39" y="434.52" width="315.70" height="6.3" fill="#1f3158"/>
<rect x="39" y="435.42" width="315.70" height="4.5" fill="#2c4a85"/>
<path d="M354.70 434.27L360.70 437.67L354.70 441.07Z" fill="#3d5f58"/>
<rect x="39" y="444.24" width="314.30" height="6.3" fill="#1f3158"/>
<rect x="39" y="445.14" width="314.30" height="4.5" fill="#2c4a85"/>
<path d="M353.30 443.99L359.30 447.39L353.30 450.79Z" fill="#3d5f58"/>
<rect x="39" y="453.96" width="314.30" height="6.3" fill="#1f3158"/>
<rect x="39" y="454.86" width="314.30" height="4.5" fill="#2c4a85"/>
<path d="M353.30 453.71L359.30 457.11L353.30 460.51Z" fill="#3d5f58"/>
<rect x="39" y="463.68" width="312.60" height="6.3" fill="#1f3158"/>
<rect x="39" y="464.58" width="312.60" height="4.5" fill="#2c4a85"/>
<path d="M351.60 463.43L357.60 466.83L351.60 470.23Z" fill="#3d5f58"/>
<rect x="39" y="473.40" width="312.60" height="6.3" fill="#c7cedf"/>
<path d="M351.60 473.15L357.60 476.55L351.60 479.95Z" fill="#3d5f58"/>
<rect x="39" y="483.12" width="312.00" height="6.3" fill="#1f3158"/>
<rect x="39" y="484.02" width="312.00" height="4.5" fill="#2c4a85"/>
<path d="M351.00 482.87L357.00 486.27L351.00 489.67Z" fill="#3d5f58"/>
<rect x="39" y="492.84" width="308.60" height="6.3" fill="#1f3158"/>
<rect x="39" y="493.74" width="308.60" height="4.5" fill="#2c4a85"/>
<path d="M347.60 492.59L353.60 495.99L347.60 499.39Z" fill="#3d5f58"/>
<rect x="39" y="502.56" width="302.10" height="6.3" fill="#c7cedf"/>
<path d="M341.10 502.31L347.10 505.71L341.10 509.11Z" fill="#3d5f58"/>
<rect x="39" y="512.28" width="301.40" height="6.3" fill="#1f3158"/>
<rect x="39" y="513.18" width="301.40" height="4.5" fill="#2c4a85"/>
<path d="M340.40 512.03L346.40 515.43L340.40 518.83Z" fill="#3d5f58"/>
<rect x="62.70" y="377.15" width="4.4" height="4.4" fill="#3e4e7a" stroke="#111" stroke-width="1.05"/>
<rect x="81.30" y="386.87" width="4.4" height="4.4" fill="#3e4e7a" stroke="#111" stroke-width="1.05"/>
<rect x="80.00" y="396.59" width="4.4" height="4.4" fill="#3e4e7a" stroke="#111" stroke-width="1.05"/>
<rect x="87.60" y="406.31" width="4.4" height="4.4" fill="#3e4e7a" stroke="#111" stroke-width="1.05"/>
<rect x="87.60" y="416.03" width="4.4" height="4.4" fill="#3e4e7a" stroke="#111" stroke-width="1.05"/>
<rect x="93.70" y="425.75" width="4.4" height="4.4" fill="#3e4e7a" stroke="#111" stroke-width="1.05"/>
<rect x="94.30" y="435.47" width="4.4" height="4.4" fill="#3e4e7a" stroke="#111" stroke-width="1.05"/>
<rect x="88.60" y="445.19" width="4.4" height="4.4" fill="#3e4e7a" stroke="#111" stroke-width="1.05"/>
<rect x="72.10" y="454.91" width="4.4" height="4.4" fill="#3e4e7a" stroke="#111" stroke-width="1.05"/>
<rect x="87.60" y="464.63" width="4.4" height="4.4" fill="#3e4e7a" stroke="#111" stroke-width="1.05"/>
<rect x="63.80" y="474.35" width="4.4" height="4.4" fill="#3e4e7a" stroke="#111" stroke-width="1.05"/>
<rect x="64.30" y="484.07" width="4.4" height="4.4" fill="#3e4e7a" stroke="#111" stroke-width="1.05"/>
<rect x="84.90" y="493.79" width="4.4" height="4.4" fill="#3e4e7a" stroke="#111" stroke-width="1.05"/>
<rect x="49.70" y="503.51" width="4.4" height="4.4" fill="#3e4e7a" stroke="#111" stroke-width="1.05"/>
<rect x="62.00" y="513.23" width="4.4" height="4.4" fill="#3e4e7a" stroke="#111" stroke-width="1.05"/>
<path d="M79.50 401.79L82.70 395.59L85.90 401.79Z" fill="#c0ad52"/>
<path d="M92.70 411.51L95.90 405.31L99.10 411.51Z" fill="#c0ad52"/>
<path d="M94.00 450.39L97.20 444.19L100.40 450.39Z" fill="#c0ad52"/>
<path d="M64.10 479.55L67.30 473.35L70.50 479.55Z" fill="#c0ad52"/>
<path d="M50.30 508.71L53.50 502.51L56.70 508.71Z" fill="#c0ad52"/>
<path d="M63.70 518.43L66.90 512.23L70.10 518.43Z" fill="#c0ad52"/>
<line x1="38.50" y1="374.20" x2="38.50" y2="521.70" stroke="#1a1a1a" stroke-width="1.1"/>
<line x1="38.00" y1="521.20" x2="380.00" y2="521.20" stroke="#1a1a1a" stroke-width="1.1"/>
<line x1="38.70" y1="521.20" x2="38.70" y2="523.80" stroke="#1a1a1a" stroke-width="1"/>
<text x="38.70" y="533.80" font-size="7.9" text-anchor="middle" class="s">0</text>
<line x1="61.30" y1="521.20" x2="61.30" y2="523.80" stroke="#1a1a1a" stroke-width="1"/>
<text x="61.30" y="533.80" font-size="7.9" text-anchor="middle" class="s">5</text>
<line x1="83.90" y1="521.20" x2="83.90" y2="523.80" stroke="#1a1a1a" stroke-width="1"/>
<text x="83.90" y="533.80" font-size="7.9" text-anchor="middle" class="s">10</text>
<line x1="106.50" y1="521.20" x2="106.50" y2="523.80" stroke="#1a1a1a" stroke-width="1"/>
<text x="106.50" y="533.80" font-size="7.9" text-anchor="middle" class="s">15</text>
<line x1="129.10" y1="521.20" x2="129.10" y2="523.80" stroke="#1a1a1a" stroke-width="1"/>
<text x="129.10" y="533.80" font-size="7.9" text-anchor="middle" class="s">20</text>
<line x1="151.70" y1="521.20" x2="151.70" y2="523.80" stroke="#1a1a1a" stroke-width="1"/>
<text x="151.70" y="533.80" font-size="7.9" text-anchor="middle" class="s">25</text>
<line x1="174.30" y1="521.20" x2="174.30" y2="523.80" stroke="#1a1a1a" stroke-width="1"/>
<text x="174.30" y="533.80" font-size="7.9" text-anchor="middle" class="s">30</text>
<line x1="196.90" y1="521.20" x2="196.90" y2="523.80" stroke="#1a1a1a" stroke-width="1"/>
<text x="196.90" y="533.80" font-size="7.9" text-anchor="middle" class="s">35</text>
<line x1="219.50" y1="521.20" x2="219.50" y2="523.80" stroke="#1a1a1a" stroke-width="1"/>
<text x="219.50" y="533.80" font-size="7.9" text-anchor="middle" class="s">40</text>
<line x1="242.10" y1="521.20" x2="242.10" y2="523.80" stroke="#1a1a1a" stroke-width="1"/>
<text x="242.10" y="533.80" font-size="7.9" text-anchor="middle" class="s">45</text>
<line x1="264.70" y1="521.20" x2="264.70" y2="523.80" stroke="#1a1a1a" stroke-width="1"/>
<text x="264.70" y="533.80" font-size="7.9" text-anchor="middle" class="s">50</text>
<line x1="287.30" y1="521.20" x2="287.30" y2="523.80" stroke="#1a1a1a" stroke-width="1"/>
<text x="287.30" y="533.80" font-size="7.9" text-anchor="middle" class="s">55</text>
<line x1="309.90" y1="521.20" x2="309.90" y2="523.80" stroke="#1a1a1a" stroke-width="1"/>
<text x="309.90" y="533.80" font-size="7.9" text-anchor="middle" class="s">60</text>
<line x1="332.50" y1="521.20" x2="332.50" y2="523.80" stroke="#1a1a1a" stroke-width="1"/>
<text x="332.50" y="533.80" font-size="7.9" text-anchor="middle" class="s">65</text>
<line x1="355.10" y1="521.20" x2="355.10" y2="523.80" stroke="#1a1a1a" stroke-width="1"/>
<text x="355.10" y="533.80" font-size="7.9" text-anchor="middle" class="s">70</text>
<line x1="377.70" y1="521.20" x2="377.70" y2="523.80" stroke="#1a1a1a" stroke-width="1"/>
<text x="377.70" y="533.80" font-size="7.9" text-anchor="middle" class="s">75</text>
<text x="209.50" y="547.20" font-size="10" text-anchor="middle" textLength="165.00" lengthAdjust="spacingAndGlyphs" class="s">Observation time from first dose (months)</text>
<text x="21.40" y="448.00" font-size="10.2" text-anchor="middle" textLength="97.80" lengthAdjust="spacingAndGlyphs" transform="rotate(-90 21.40 448.00)" class="s">Patients still in remission</text>
<text x="33.40" y="447.50" font-size="10.2" text-anchor="middle" textLength="81.50" lengthAdjust="spacingAndGlyphs" transform="rotate(-90 33.40 447.50)" class="s">and on study (N=15)</text>
<rect x="386.9" y="398.5" width="7" height="5.4" fill="#2c4a85"/>
<text x="396.60" y="404.00" font-size="8" textLength="70.00" lengthAdjust="spacingAndGlyphs" class="s">Complete Response</text>
<rect x="386.9" y="408.9" width="7" height="5.6" fill="#c7cedf"/>
<text x="396.60" y="414.40" font-size="8" textLength="58.40" lengthAdjust="spacingAndGlyphs" class="s">Partial Response</text>
<rect x="388.4" y="419.8" width="5.2" height="5.0" fill="#fff" stroke="#111" stroke-width="1.2"/>
<text x="396.40" y="425.20" font-size="8" textLength="15.50" lengthAdjust="spacingAndGlyphs" class="s">EOT</text>
<path d="M386.9 436.0L389.8 430.2L392.7 436.0Z" fill="#c0ad52"/>
<text x="396.60" y="436.00" font-size="8" textLength="32.40" lengthAdjust="spacingAndGlyphs" class="s">Allo- SCT</text>
<path d="M388.2 440.6L392.4 443.5L388.2 446.4Z" fill="#3d5f58"/>
<text x="396.60" y="446.40" font-size="8" textLength="79.20" lengthAdjust="spacingAndGlyphs" class="s">OS and PFS Censored</text>
<text x="7.90" y="572.90" font-size="12" font-weight="bold">F</text>
<path d="M83.80 573.50H137.50V594.50H213.60V615.00H239.90" stroke="#d9aa6a" stroke-width="1.35" fill="none"/>
<path d="M49.60 573.50H83.80V577.50H97.50V582.00H100.43V582.33H103.37V582.67H106.30V583.00H106.90V585.25H107.50V587.50H109.50V590.00H113.80V591.30H114.20V594.20H114.60V597.10H115.00V600.00H131.30H131.90V602.25H132.50V604.50H135.00V605.00H137.50V605.50H138.80V609.50H151.60V614.00H176.30H177.30V618.40H200.50H201.00V620.90H201.50V623.40H243.00" stroke="#bababa" stroke-width="1.35" fill="none"/>
<circle cx="121.30" cy="600.00" r="1.2" fill="#a8a8a8"/>
<circle cx="195.50" cy="618.40" r="1.2" fill="#a8a8a8"/>
<circle cx="214.60" cy="623.40" r="1.2" fill="#a8a8a8"/>
<circle cx="226.00" cy="623.40" r="1.2" fill="#a8a8a8"/>
<circle cx="228.10" cy="623.40" r="1.2" fill="#a8a8a8"/>
<circle cx="230.20" cy="623.40" r="1.2" fill="#a8a8a8"/>
<circle cx="232.30" cy="623.40" r="1.2" fill="#a8a8a8"/>
<circle cx="234.40" cy="623.40" r="1.2" fill="#a8a8a8"/>
<circle cx="236.50" cy="623.40" r="1.2" fill="#a8a8a8"/>
<circle cx="238.60" cy="623.40" r="1.2" fill="#a8a8a8"/>
<circle cx="240.70" cy="623.40" r="1.2" fill="#a8a8a8"/>
<line x1="232.80" y1="615.00" x2="238.90" y2="615.00" stroke="#d2a266" stroke-width="2.6"/>
<circle cx="225.80" cy="615.00" r="1.4" fill="#d2a266"/>
<circle cx="232.80" cy="615.00" r="1.4" fill="#d2a266"/>
<circle cx="235.60" cy="615.00" r="1.4" fill="#d2a266"/>
<circle cx="238.60" cy="615.00" r="1.4" fill="#d2a266"/>
<line x1="46.60" y1="572.00" x2="46.60" y2="698.70" stroke="#1a1a1a" stroke-width="1.4"/>
<line x1="45.90" y1="698.00" x2="247.00" y2="698.00" stroke="#1a1a1a" stroke-width="1.4"/>
<line x1="43.60" y1="696.80" x2="46.60" y2="696.80" stroke="#1a1a1a" stroke-width="1"/>
<text x="41.00" y="699.70" font-size="8.3" text-anchor="end" class="s">0</text>
<line x1="43.60" y1="684.47" x2="46.60" y2="684.47" stroke="#1a1a1a" stroke-width="1"/>
<text x="41.00" y="687.37" font-size="8.3" text-anchor="end" class="s">10</text>
<line x1="43.60" y1="672.14" x2="46.60" y2="672.14" stroke="#1a1a1a" stroke-width="1"/>
<text x="41.00" y="675.04" font-size="8.3" text-anchor="end" class="s">20</text>
<line x1="43.60" y1="659.81" x2="46.60" y2="659.81" stroke="#1a1a1a" stroke-width="1"/>
<text x="41.00" y="662.71" font-size="8.3" text-anchor="end" class="s">30</text>
<line x1="43.60" y1="647.48" x2="46.60" y2="647.48" stroke="#1a1a1a" stroke-width="1"/>
<text x="41.00" y="650.38" font-size="8.3" text-anchor="end" class="s">40</text>
<line x1="43.60" y1="635.15" x2="46.60" y2="635.15" stroke="#1a1a1a" stroke-width="1"/>
<text x="41.00" y="638.05" font-size="8.3" text-anchor="end" class="s">50</text>
<line x1="43.60" y1="622.82" x2="46.60" y2="622.82" stroke="#1a1a1a" stroke-width="1"/>
<text x="41.00" y="625.72" font-size="8.3" text-anchor="end" class="s">60</text>
<line x1="43.60" y1="610.49" x2="46.60" y2="610.49" stroke="#1a1a1a" stroke-width="1"/>
<text x="41.00" y="613.39" font-size="8.3" text-anchor="end" class="s">70</text>
<line x1="43.60" y1="598.16" x2="46.60" y2="598.16" stroke="#1a1a1a" stroke-width="1"/>
<text x="41.00" y="601.06" font-size="8.3" text-anchor="end" class="s">80</text>
<line x1="43.60" y1="585.83" x2="46.60" y2="585.83" stroke="#1a1a1a" stroke-width="1"/>
<text x="41.00" y="588.73" font-size="8.3" text-anchor="end" class="s">90</text>
<line x1="43.60" y1="573.50" x2="46.60" y2="573.50" stroke="#1a1a1a" stroke-width="1"/>
<text x="41.00" y="576.40" font-size="8.3" text-anchor="end" class="s">100</text>
<line x1="49.90" y1="698.00" x2="49.90" y2="701.00" stroke="#1a1a1a" stroke-width="1"/>
<text x="49.90" y="710.90" font-size="8.3" text-anchor="middle" class="s">0</text>
<line x1="73.72" y1="698.00" x2="73.72" y2="701.00" stroke="#1a1a1a" stroke-width="1"/>
<text x="73.72" y="710.90" font-size="8.3" text-anchor="middle" class="s">9</text>
<line x1="97.55" y1="698.00" x2="97.55" y2="701.00" stroke="#1a1a1a" stroke-width="1"/>
<text x="97.55" y="710.90" font-size="8.3" text-anchor="middle" class="s">18</text>
<line x1="121.38" y1="698.00" x2="121.38" y2="701.00" stroke="#1a1a1a" stroke-width="1"/>
<text x="121.38" y="710.90" font-size="8.3" text-anchor="middle" class="s">27</text>
<line x1="145.20" y1="698.00" x2="145.20" y2="701.00" stroke="#1a1a1a" stroke-width="1"/>
<text x="145.20" y="710.90" font-size="8.3" text-anchor="middle" class="s">36</text>
<line x1="169.03" y1="698.00" x2="169.03" y2="701.00" stroke="#1a1a1a" stroke-width="1"/>
<text x="169.03" y="710.90" font-size="8.3" text-anchor="middle" class="s">45</text>
<line x1="192.85" y1="698.00" x2="192.85" y2="701.00" stroke="#1a1a1a" stroke-width="1"/>
<text x="192.85" y="710.90" font-size="8.3" text-anchor="middle" class="s">54</text>
<line x1="216.68" y1="698.00" x2="216.68" y2="701.00" stroke="#1a1a1a" stroke-width="1"/>
<text x="216.68" y="710.90" font-size="8.3" text-anchor="middle" class="s">63</text>
<line x1="240.50" y1="698.00" x2="240.50" y2="701.00" stroke="#1a1a1a" stroke-width="1"/>
<text x="240.50" y="710.90" font-size="8.3" text-anchor="middle" class="s">72</text>
<text x="146.80" y="725.60" font-size="10" text-anchor="middle" textLength="57.20" lengthAdjust="spacingAndGlyphs" class="s">Time (months)</text>
<text x="21.30" y="634.80" font-size="9.3" text-anchor="middle" textLength="106.70" lengthAdjust="spacingAndGlyphs" transform="rotate(-90 21.30 634.80)" class="s">Percentage of patients alive</text>
<text x="234.50" y="662.50" font-size="6.8" text-anchor="middle" textLength="21.70" lengthAdjust="spacingAndGlyphs">Median</text>
<text x="187.40" y="671.60" font-size="6.8" text-anchor="middle">N</text>
<text x="206.20" y="671.60" font-size="6.8" text-anchor="middle" textLength="20.20" lengthAdjust="spacingAndGlyphs">Events</text>
<text x="234.90" y="671.60" font-size="6.8" text-anchor="middle" textLength="26.30" lengthAdjust="spacingAndGlyphs">(Months)</text>
<line x1="182.30" y1="674.60" x2="248.60" y2="674.60" stroke="#1a1a1a" stroke-width="1.0"/>
<line x1="49.00" y1="679.80" x2="62.20" y2="679.80" stroke="#d9aa6a" stroke-width="1.3"/>
<line x1="49.00" y1="688.30" x2="62.20" y2="688.30" stroke="#bababa" stroke-width="1.3"/>
<text x="64.60" y="682.30" font-size="7.2" textLength="109.60" lengthAdjust="spacingAndGlyphs">Stem Cell Transplant Post-Treatment</text>
<text x="64.60" y="690.70" font-size="7.2" textLength="89.30" lengthAdjust="spacingAndGlyphs">No Transplant Post-Treatment</text>
<text x="187.40" y="682.30" font-size="7.2" text-anchor="middle">6</text>
<text x="205.60" y="682.30" font-size="7.2" text-anchor="middle">2</text>
<text x="235.30" y="681.50" font-size="5.8" text-anchor="middle">–</text>
<text x="187.40" y="690.70" font-size="7.2" text-anchor="middle">28</text>
<text x="206.00" y="690.70" font-size="7.2" text-anchor="middle">11</text>
<text x="235.30" y="689.90" font-size="5.8" text-anchor="middle">–</text>
<text x="262.00" y="573.30" font-size="12" font-weight="bold">G</text>
<path d="M334.60 573.80H404.80V594.50H413.50V615.10H508.20" stroke="#d9aa6a" stroke-width="1.35" fill="none"/>
<path d="M317.40 573.80H334.60H334.80V576.60H335.00V579.40H335.33V581.67H335.67V583.93H336.00V586.20H336.50V588.10H337.00V590.00H338.90V590.50H340.80V591.00H342.70V593.80H343.70V596.70H344.65V598.65H345.60V600.60H348.50V602.50H349.40V605.40H355.20H355.50V608.30H355.80V611.20H365.80H366.00V613.60H366.20V616.00H374.40H374.90V617.90H375.40V619.80H377.30V622.70H377.80V624.60H378.30V626.50H380.20V628.50H380.80V631.60H472.40V637.30H510.50" stroke="#bababa" stroke-width="1.35" fill="none"/>
<circle cx="462.00" cy="631.60" r="1.2" fill="#a8a8a8"/>
<circle cx="482.80" cy="637.30" r="1.2" fill="#a8a8a8"/>
<circle cx="496.60" cy="637.30" r="1.2" fill="#a8a8a8"/>
<circle cx="498.60" cy="637.30" r="1.2" fill="#a8a8a8"/>
<circle cx="500.60" cy="637.30" r="1.2" fill="#a8a8a8"/>
<circle cx="502.60" cy="637.30" r="1.2" fill="#a8a8a8"/>
<circle cx="504.60" cy="637.30" r="1.2" fill="#a8a8a8"/>
<circle cx="506.60" cy="637.30" r="1.2" fill="#a8a8a8"/>
<circle cx="508.60" cy="637.30" r="1.2" fill="#a8a8a8"/>
<circle cx="510.60" cy="637.30" r="1.2" fill="#a8a8a8"/>
<line x1="500.00" y1="615.10" x2="508.20" y2="615.10" stroke="#d2a266" stroke-width="2.6"/>
<circle cx="493.20" cy="615.10" r="1.4" fill="#d2a266"/>
<circle cx="500.00" cy="615.10" r="1.4" fill="#d2a266"/>
<circle cx="502.00" cy="615.10" r="1.4" fill="#d2a266"/>
<circle cx="504.00" cy="615.10" r="1.4" fill="#d2a266"/>
<circle cx="506.00" cy="615.10" r="1.4" fill="#d2a266"/>
<circle cx="508.00" cy="615.10" r="1.4" fill="#d2a266"/>
<line x1="314.20" y1="572.30" x2="314.20" y2="698.70" stroke="#1a1a1a" stroke-width="1.4"/>
<line x1="313.50" y1="698.00" x2="512.00" y2="698.00" stroke="#1a1a1a" stroke-width="1.4"/>
<line x1="311.20" y1="697.10" x2="314.20" y2="697.10" stroke="#1a1a1a" stroke-width="1"/>
<text x="307.90" y="700.00" font-size="8.3" text-anchor="end" class="s">0</text>
<line x1="311.20" y1="684.77" x2="314.20" y2="684.77" stroke="#1a1a1a" stroke-width="1"/>
<text x="307.90" y="687.67" font-size="8.3" text-anchor="end" class="s">10</text>
<line x1="311.20" y1="672.44" x2="314.20" y2="672.44" stroke="#1a1a1a" stroke-width="1"/>
<text x="307.90" y="675.34" font-size="8.3" text-anchor="end" class="s">20</text>
<line x1="311.20" y1="660.11" x2="314.20" y2="660.11" stroke="#1a1a1a" stroke-width="1"/>
<text x="307.90" y="663.01" font-size="8.3" text-anchor="end" class="s">30</text>
<line x1="311.20" y1="647.78" x2="314.20" y2="647.78" stroke="#1a1a1a" stroke-width="1"/>
<text x="307.90" y="650.68" font-size="8.3" text-anchor="end" class="s">40</text>
<line x1="311.20" y1="635.45" x2="314.20" y2="635.45" stroke="#1a1a1a" stroke-width="1"/>
<text x="307.90" y="638.35" font-size="8.3" text-anchor="end" class="s">50</text>
<line x1="311.20" y1="623.12" x2="314.20" y2="623.12" stroke="#1a1a1a" stroke-width="1"/>
<text x="307.90" y="626.02" font-size="8.3" text-anchor="end" class="s">60</text>
<line x1="311.20" y1="610.79" x2="314.20" y2="610.79" stroke="#1a1a1a" stroke-width="1"/>
<text x="307.90" y="613.69" font-size="8.3" text-anchor="end" class="s">70</text>
<line x1="311.20" y1="598.46" x2="314.20" y2="598.46" stroke="#1a1a1a" stroke-width="1"/>
<text x="307.90" y="601.36" font-size="8.3" text-anchor="end" class="s">80</text>
<line x1="311.20" y1="586.13" x2="314.20" y2="586.13" stroke="#1a1a1a" stroke-width="1"/>
<text x="307.90" y="589.03" font-size="8.3" text-anchor="end" class="s">90</text>
<line x1="311.20" y1="573.80" x2="314.20" y2="573.80" stroke="#1a1a1a" stroke-width="1"/>
<text x="307.90" y="576.70" font-size="8.3" text-anchor="end" class="s">100</text>
<line x1="317.30" y1="698.00" x2="317.30" y2="701.00" stroke="#1a1a1a" stroke-width="1"/>
<text x="317.30" y="710.90" font-size="8.3" text-anchor="middle" class="s">0</text>
<line x1="340.96" y1="698.00" x2="340.96" y2="701.00" stroke="#1a1a1a" stroke-width="1"/>
<text x="340.96" y="710.90" font-size="8.3" text-anchor="middle" class="s">9</text>
<line x1="364.62" y1="698.00" x2="364.62" y2="701.00" stroke="#1a1a1a" stroke-width="1"/>
<text x="364.62" y="710.90" font-size="8.3" text-anchor="middle" class="s">18</text>
<line x1="388.29" y1="698.00" x2="388.29" y2="701.00" stroke="#1a1a1a" stroke-width="1"/>
<text x="388.29" y="710.90" font-size="8.3" text-anchor="middle" class="s">27</text>
<line x1="411.95" y1="698.00" x2="411.95" y2="701.00" stroke="#1a1a1a" stroke-width="1"/>
<text x="411.95" y="710.90" font-size="8.3" text-anchor="middle" class="s">36</text>
<line x1="435.61" y1="698.00" x2="435.61" y2="701.00" stroke="#1a1a1a" stroke-width="1"/>
<text x="435.61" y="710.90" font-size="8.3" text-anchor="middle" class="s">45</text>
<line x1="459.28" y1="698.00" x2="459.28" y2="701.00" stroke="#1a1a1a" stroke-width="1"/>
<text x="459.28" y="710.90" font-size="8.3" text-anchor="middle" class="s">54</text>
<line x1="482.94" y1="698.00" x2="482.94" y2="701.00" stroke="#1a1a1a" stroke-width="1"/>
<text x="482.94" y="710.90" font-size="8.3" text-anchor="middle" class="s">63</text>
<line x1="506.60" y1="698.00" x2="506.60" y2="701.00" stroke="#1a1a1a" stroke-width="1"/>
<text x="506.60" y="710.90" font-size="8.3" text-anchor="middle" class="s">72</text>
<text x="413.00" y="725.60" font-size="10" text-anchor="middle" textLength="57.20" lengthAdjust="spacingAndGlyphs" class="s">Time (months)</text>
<text x="275.90" y="634.80" font-size="9.3" text-anchor="middle" textLength="104.30" lengthAdjust="spacingAndGlyphs" transform="rotate(-90 275.90 634.80)" class="s">Percentage of patients free</text>
<text x="288.10" y="634.60" font-size="9.3" text-anchor="middle" textLength="56.10" lengthAdjust="spacingAndGlyphs" transform="rotate(-90 288.10 634.60)" class="s">of PD or death</text>
<text x="501.50" y="665.40" font-size="6.8" text-anchor="middle" textLength="22.20" lengthAdjust="spacingAndGlyphs">Median</text>
<text x="454.90" y="673.10" font-size="6.8" text-anchor="middle">N</text>
<text x="473.10" y="673.10" font-size="6.8" text-anchor="middle" textLength="20.20" lengthAdjust="spacingAndGlyphs">Events</text>
<text x="501.30" y="673.10" font-size="6.8" text-anchor="middle" textLength="26.00" lengthAdjust="spacingAndGlyphs">(Months)</text>
<line x1="449.00" y1="676.60" x2="514.50" y2="676.60" stroke="#1a1a1a" stroke-width="1.0"/>
<line x1="317.40" y1="681.50" x2="330.10" y2="681.50" stroke="#d9aa6a" stroke-width="1.3"/>
<line x1="317.40" y1="690.00" x2="330.10" y2="690.00" stroke="#bababa" stroke-width="1.3"/>
<text x="332.80" y="683.90" font-size="7.2" textLength="110.00" lengthAdjust="spacingAndGlyphs">Stem Cell Transplant Post-Treatment</text>
<text x="332.80" y="692.40" font-size="7.2" textLength="89.50" lengthAdjust="spacingAndGlyphs">No Transplant Post-Treatment</text>
<text x="454.90" y="683.60" font-size="7.2" text-anchor="middle">6</text>
<text x="473.00" y="683.60" font-size="7.2" text-anchor="middle">2</text>
<text x="502.00" y="682.80" font-size="5.8" text-anchor="middle">–</text>
<text x="454.90" y="692.30" font-size="7.2" text-anchor="middle">28</text>
<text x="473.00" y="692.30" font-size="7.2" text-anchor="middle">13</text>
<text x="502.60" y="692.30" font-size="7.2" text-anchor="middle">58.9</text>
</svg>
<div class="frame"></div>
</body></html>
